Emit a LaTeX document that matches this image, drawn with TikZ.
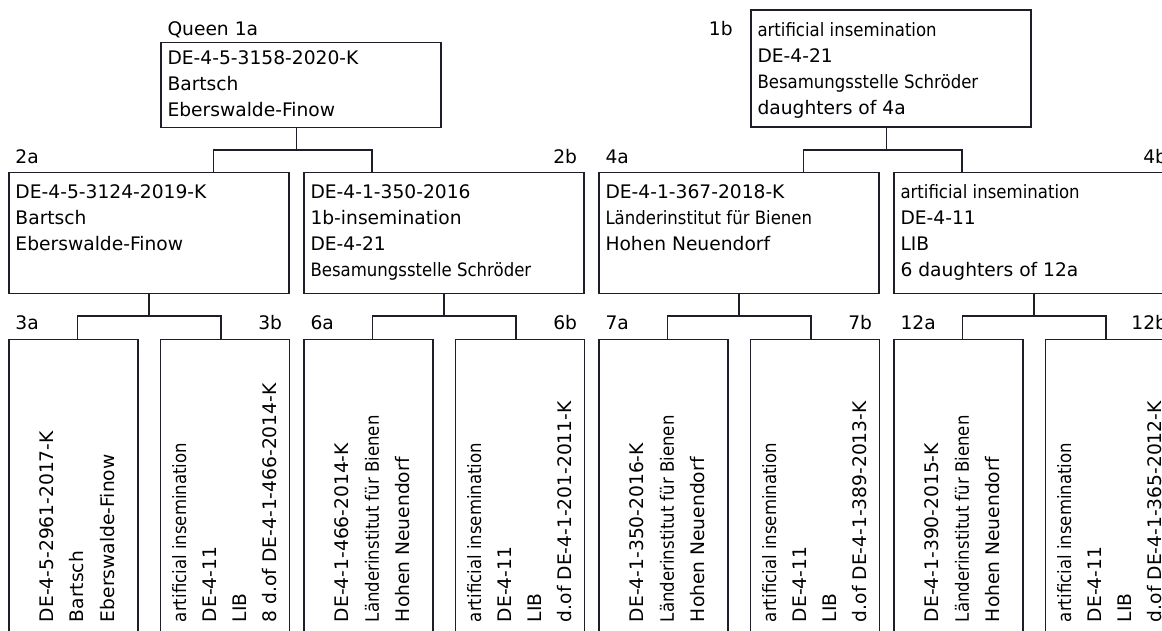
\documentclass[tikz,border=0pt]{standalone}
\usepackage{fontspec}
\setmainfont{DejaVu Sans}
\newfontfamily\condfont[FakeStretch=0.9]{DejaVu Sans}
\usetikzlibrary{calc}
\definecolor{linec}{RGB}{30,30,40}
\newcommand\fs{\fontsize{18.67}{22}\selectfont}
\newcommand\sm{\condfont\fontsize{18.4}{22}\selectfont}
\tikzset{
  box/.style={draw=linec, line width=1.3pt, inner sep=0pt, outer sep=0pt, anchor=north west},
  topbox/.style={box, minimum width=280pt},
  big/.style={box, minimum width=280pt, minimum height=120.8pt},
  leaf/.style={box, minimum width=129pt, minimum height=330pt},
  txt/.style={inner sep=0pt, outer sep=0pt, anchor=base west, font=\fs, text=black},
  rtxt/.style={txt, anchor=base east},
  conn/.style={draw=linec, line width=1.3pt},
}
\newcommand\hlines[4]{%
  \foreach \mytext [count=\myi] in {#4} {\node[txt] (#1-\myi) at (#2,{#3+(\myi-1)*26}) {\mytext};}}
\newcommand\vlines[3]{%
  \foreach \mytext [count=\myi] in {#3} {\node[txt, rotate=90] (#1-\myi) at ({#2+(\myi-1)*30.2},622) {\mytext};}}
\begin{document}
\begin{tikzpicture}[x=1pt,y=-1pt]
\useasboundingbox (0,0) rectangle (1162,630);
\clip (0,0) rectangle (1162,630);
% top boxes
\node[topbox, minimum height=84.8pt] (q) at (161,42.7) {};
\node[topbox, minimum height=117pt] (b1) at (751,10) {};
% level 2
\node[big] (n2a) at (9,172.5) {};
\node[big] (n2b) at (304,172.5) {};
\node[big] (n4a) at (599,172.5) {};
\node[big] (n4b) at (894,172.5) {};
% level 3
\node[leaf] (n3a) at (9,339.3) {};
\node[leaf] (n3b) at (160.5,339.3) {};
\node[leaf] (n6a) at (304,339.3) {};
\node[leaf] (n6b) at (455.5,339.3) {};
\node[leaf] (n7a) at (599,339.3) {};
\node[leaf] (n7b) at (750.5,339.3) {};
\node[leaf] (n12a) at (894,339.3) {};
\node[leaf] (n12b) at (1045.5,339.3) {};
% connectors level 1 -> 2
\draw[conn] ([xshift=204.8pt]n2a.north west) -- ++(0,-22.5) -| ([xshift=68pt]n2b.north west);
\draw[conn] ([xshift=135.8pt]q.south west) |- ([xshift=204.8pt,yshift=22.5pt]n2a.north west);
\draw[conn] ([xshift=204.8pt]n4a.north west) -- ++(0,-22.5) -| ([xshift=68pt]n4b.north west);
\draw[conn] ([xshift=135.8pt]b1.south west) |- ([xshift=204.8pt,yshift=22.5pt]n4a.north west);
% connectors level 2 -> 3
\foreach \p/\a/\b in {n2a/n3a/n3b, n2b/n6a/n6b, n4a/n7a/n7b, n4b/n12a/n12b} {
  \draw[conn] ([xshift=68.2pt]\a.north west) -- ++(0,-23.3) -| ([xshift=60.5pt]\b.north west);
  \draw[conn] ([xshift=140pt]\p.south west) |- ([xshift=68.2pt,yshift=23.3pt]\a.north west);
}
% labels
\node[txt] (lq) at (167.5,35) {Queen 1a};
\node[rtxt] (l1b) at (732.7,35) {1b};
\node[txt] (l2a) at (15.5,163.3) {2a};
\node[rtxt] (l2b) at (577,163.3) {2b};
\node[txt] (l4a) at (605.5,163.3) {4a};
\node[rtxt] (l4b) at (1167,163.3) {4b};
\node[txt] (l3a) at (15.5,329.3) {3a};
\node[rtxt] (l3b) at (282,329.3) {3b};
\node[txt] (l6a) at (310.5,329.3) {6a};
\node[rtxt] (l6b) at (577,329.3) {6b};
\node[txt] (l7a) at (605.5,329.3) {7a};
\node[rtxt] (l7b) at (872,329.3) {7b};
\node[txt] (l12a) at (900.5,329.3) {12a};
\node[rtxt] (l12b) at (1167,329.3) {12b};
% texts in upper boxes
\hlines{tq}{167.5}{64}{DE-4-5-3158-2020-K, Bartsch, Eberswalde-Finow}
\hlines{tb}{757.5}{36}{{\sm artificial insemination}, DE-4-21, {\sm Besamungsstelle Schröder}, daughters of 4a}
\hlines{t2a}{15.5}{198.3}{DE-4-5-3124-2019-K, Bartsch, Eberswalde-Finow}
\hlines{t2b}{310.5}{198.3}{DE-4-1-350-2016, 1b-insemination, DE-4-21, {\sm Besamungsstelle Schröder}}
\hlines{t4a}{605.5}{198.3}{DE-4-1-367-2018-K, {\sm Länderinstitut für Bienen}, Hohen Neuendorf}
\hlines{t4b}{900.5}{198.3}{{\sm artificial insemination}, DE-4-11, LIB, 6 daughters of 12a}
% rotated texts in leaves
\vlines{t3a}{53.7}{DE-4-5-2961-2017-K, Bartsch, Eberswalde-Finow}
\vlines{t3b}{186.2}{{\sm artificial insemination}, DE-4-11, LIB, 8 d.of DE-4-1-466-2014-K}
\vlines{t6a}{348.7}{DE-4-1-466-2014-K, {\sm Länderinstitut für Bienen}, Hohen Neuendorf}
\vlines{t6b}{481.2}{{\sm artificial insemination}, DE-4-11, LIB, d.of DE-4-1-201-2011-K}
\vlines{t7a}{643.7}{DE-4-1-350-2016-K, {\sm Länderinstitut für Bienen}, Hohen Neuendorf}
\vlines{t7b}{776.2}{{\sm artificial insemination}, DE-4-11, LIB, d.of DE-4-1-389-2013-K}
\vlines{t12a}{938.7}{DE-4-1-390-2015-K, {\sm Länderinstitut für Bienen}, Hohen Neuendorf}
\vlines{t12b}{1071.2}{{\sm artificial insemination}, DE-4-11, LIB, d.of DE-4-1-365-2012-K}
\end{tikzpicture}
\end{document}
